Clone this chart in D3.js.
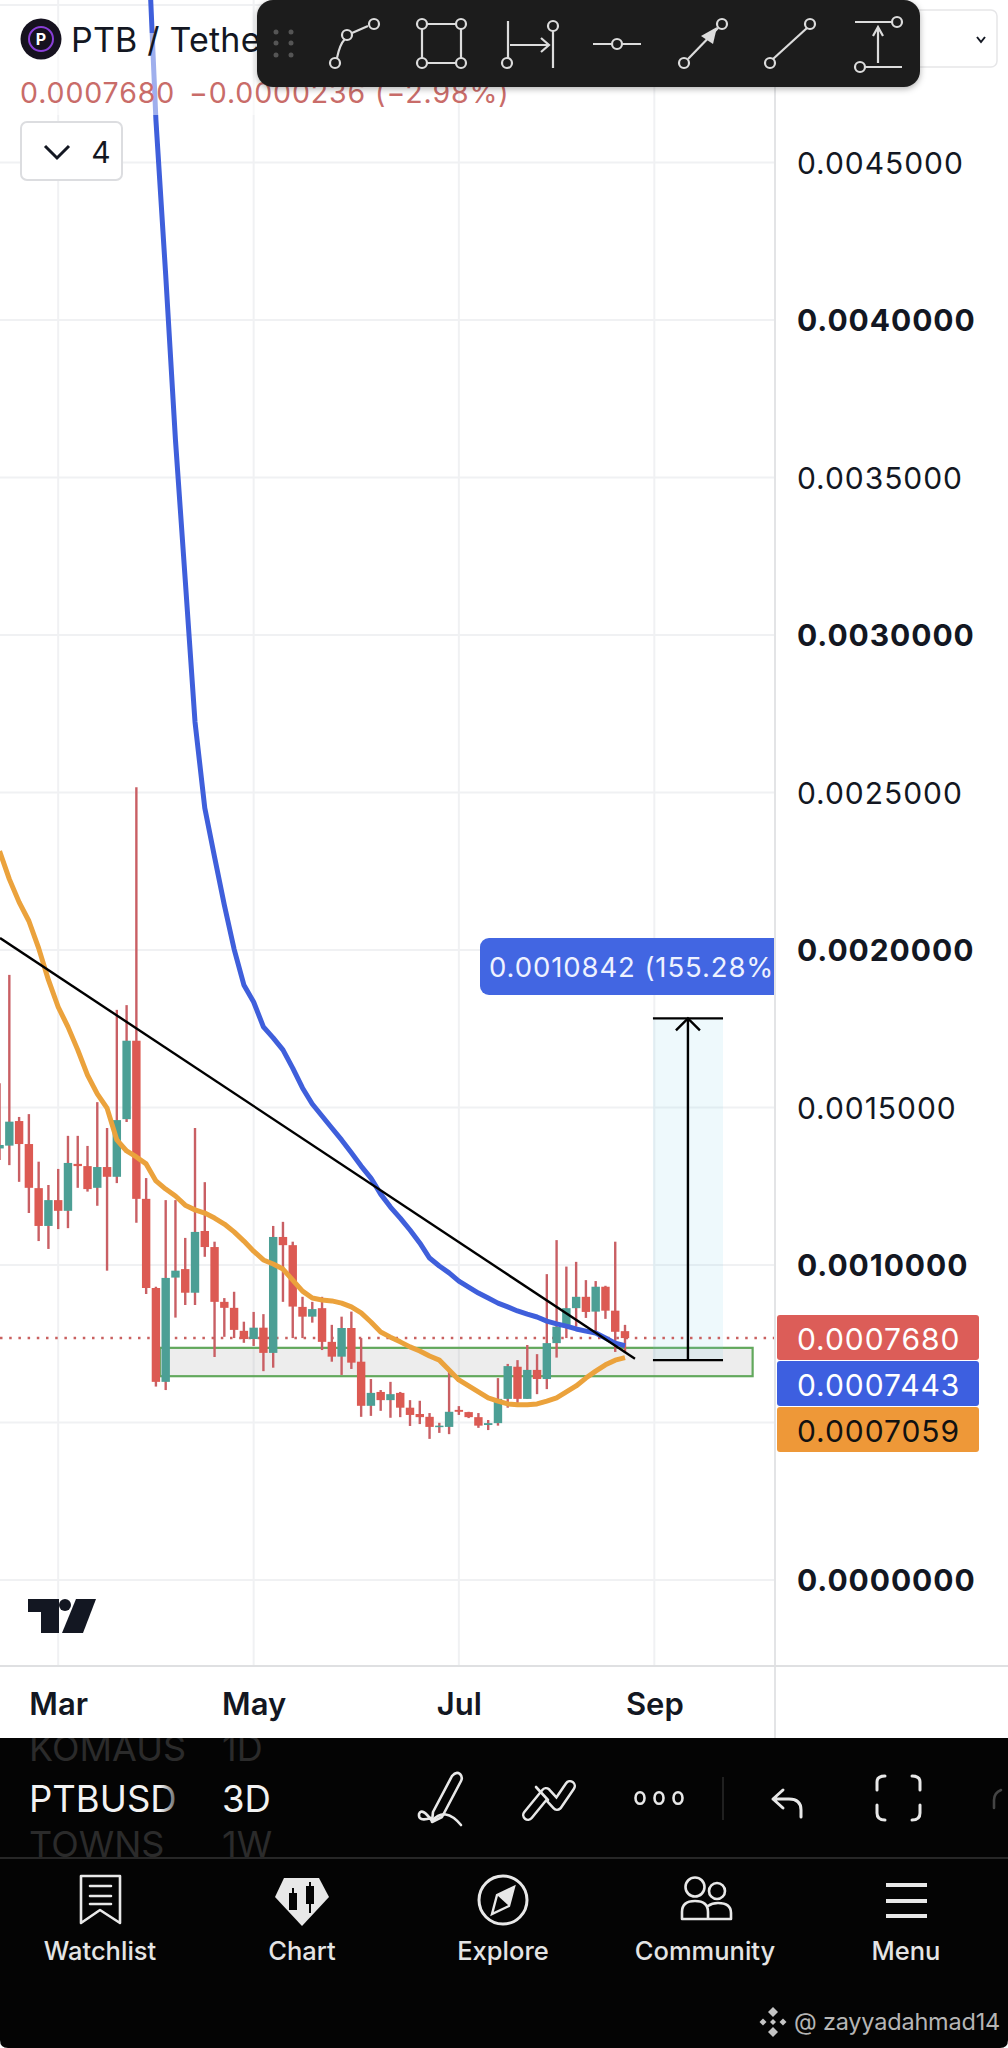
<!DOCTYPE html>
<html>
<head>
<meta charset="utf-8">
<title>PTB / TetherUS</title>
<script src="https://cdn.jsdelivr.net/npm/d3@7"></script>
<style>
	html, body { margin: 0; padding: 0; background: #fff; }
	svg { display: block; }
	text { font-family: Inter, "Open Sans", sans-serif; }
</style>
</head>
<body>
<div id="chart"></div>
<script>
const w = 1008;
const h = 2048;

const firstCandle = -1;
const opens = [1370,1379,1457,1384,1244,1124,1206,1172,1321,1314,1245,1311,1280,1463,1712,1210,927,629,960,987,912,1108,1057,883,864,791,765,801,721,1089,1063,867,836,863,756,709,800,693,553,597,571,594,547,527,518,486,486,540,533,517,492,498,575,677,575,667,638,752,804,863,899,852,931,855,790];
const highs = [1577,1921,1470,1479,1328,1254,1305,1410,1410,1378,1517,1435,1810,1825,2517,1276,931,1206,1206,1086,1435,1263,1074,895,915,820,851,844,1124,1137,1074,899,883,899,810,836,852,768,638,603,629,597,571,569,530,499,670,552,534,530,508,641,686,698,746,717,971,1079,995,1010,952,949,934,1074,810];
const lows = [1333,1317,1264,1165,1076,1051,1114,1117,1245,1233,1188,982,1260,1454,1134,908,614,603,833,873,873,1026,708,772,768,753,743,663,674,883,768,768,817,730,693,651,670,518,521,537,515,517,489,495,448,467,463,524,514,483,476,490,547,562,575,590,606,706,768,804,832,788,829,724,721];
const closes = [1381,1455,1384,1245,1124,1206,1172,1324,1314,1241,1311,1280,1460,1712,1210,927,629,959,982,912,1105,1057,883,864,794,765,801,721,1089,1063,868,836,860,756,709,800,690,553,594,571,590,547,524,517,486,490,534,534,517,490,498,575,679,575,667,638,752,804,863,899,851,931,855,788,768];

// orange average starts at the first candle, blue one at candle 14
const orangeLine = [2314,2225,2152,2092,2006,1905,1819,1756,1683,1603,1543,1498,1397,1362,1343,1321,1267,1241,1219,1190,1175,1165,1149,1130,1105,1076,1044,1016,1003,987,952,917,895,889,886,879,867,848,819,787,771,756,740,727,711,698,667,635,616,597,578,568,559,556,556,559,568,578,597,616,641,663,683,698,706];
const blueStart = 14;
const blueLine = [5349,4635,4143,3619,3175,2724,2451,2295,2143,2003,1889,1835,1756,1721,1683,1625,1562,1511,1473,1435,1397,1356,1314,1276,1225,1184,1149,1111,1070,1022,997,975,949,930,911,895,879,867,854,844,835,822,813,806,797,790,784,768,752,744];

// drawings on the chart: [candle index, price]
const trendLine = [[-0.95, 2038], [64.02, 702]];
const zoneBox = {x0: 15.4, x1: 76.06, top: 737, bottom: 647};
const measureBox = {x0: 65.86, x1: 73.03, mid: 69.44, top: 1783, bottom: 698};
const lastPrice = 768;

const priceTicks = [0,500,1000,1500,2000,2500,3000,3500,4000,4500];
const boldTicks = [0,1000,2000,3000,4000];
const gridPrices = [0,500,1000,1500,2000,2500,3000,3500,4000,4500,5000];
const monthTicks = [5,25,46,66];
const monthLabels = ["Mar","May","Jul","Sep"];

const priceTags = [
	{text: "0.0007680", bg: "#dc5d58", fg: "#fff", y: 1315, h: 45},
	{text: "0.0007443", bg: "#3d5fe0", fg: "#fff", y: 1361, h: 45},
	{text: "0.0007059", bg: "#ee9838", fg: "#111", y: 1407, h: 45}
];
const navItems = ["Watchlist","Chart","Explore","Community","Menu"];
const navX = [100,302,503,705,906];

const candles = opens.map((o, i) => ({
	i: i + firstCandle, open: o, high: highs[i], low: lows[i], close: closes[i]
}));

let xScale = d3.scaleLinear().domain([0, 63]).range([9.33, 625]);
let yScale = d3.scaleLinear().domain([0, 5000]).range([1580, 5]);

const axisX = 775;
const plotBottom = 1666;
const panelTop = 1738;

let svg = d3.select('#chart')
	.append('svg')
		.attr('width', w)
		.attr('height', h);

let defs = svg.append('defs');
defs.append('clipPath').attr('id', 'plot')
	.append('rect').attr('width', axisX).attr('height', plotBottom);
defs.append('clipPath').attr('id', 'panelRow')
	.append('rect').attr('y', panelTop).attr('width', w).attr('height', 1858 - panelTop);
let fade = defs.append('linearGradient').attr('id', 'fade')
	.attr('gradientUnits', 'userSpaceOnUse')
	.attr('x1', 160).attr('x2', 182).attr('y1', 0).attr('y2', 0);
fade.append('stop').attr('offset', 0).attr('stop-color', '#f2f2f2');
fade.append('stop').attr('offset', 1).attr('stop-color', '#333');
let shadow = defs.append('filter').attr('id', 'shadow')
	.attr('x', '-10%').attr('y', '-20%').attr('width', '120%').attr('height', '150%');
shadow.append('feDropShadow').attr('dx', 0).attr('dy', 2).attr('stdDeviation', 3)
	.attr('flood-color', '#000').attr('flood-opacity', 0.3);

drawPlot();
drawAxes();
drawHeader();
drawToolbar();
drawPanel();

function drawPlot() {
	let plot = svg.append('g').attr('clip-path', 'url(#plot)');

	plot.selectAll('line.hgrid')
		.data(gridPrices)
		.enter().append('line')
		.attr('class', 'hgrid')
		.attr('x1', 0).attr('x2', axisX)
		.attr('y1', (d) => yScale(d)).attr('y2', (d) => yScale(d))
		.attr('stroke', '#f0f1f3').attr('stroke-width', 2);

	plot.selectAll('line.vgrid')
		.data(monthTicks)
		.enter().append('line')
		.attr('class', 'vgrid')
		.attr('x1', (d) => xScale(d)).attr('x2', (d) => xScale(d))
		.attr('y1', 0).attr('y2', plotBottom)
		.attr('stroke', '#f0f1f3').attr('stroke-width', 2);

	// zone under the candles
	plot.append('rect')
		.attr('x', xScale(zoneBox.x0))
		.attr('width', xScale(zoneBox.x1) - xScale(zoneBox.x0))
		.attr('y', yScale(zoneBox.top))
		.attr('height', yScale(zoneBox.bottom) - yScale(zoneBox.top))
		.attr('fill', 'rgba(140,140,140,0.16)')
		.attr('stroke', '#62a85c').attr('stroke-width', 2.2);

	// measure tool background
	plot.append('rect')
		.attr('x', xScale(measureBox.x0))
		.attr('width', xScale(measureBox.x1) - xScale(measureBox.x0))
		.attr('y', yScale(measureBox.top))
		.attr('height', yScale(measureBox.bottom) - yScale(measureBox.top))
		.attr('fill', 'rgba(120,210,235,0.13)');

	// last price line
	plot.append('line')
		.attr('x1', 0).attr('x2', axisX)
		.attr('y1', yScale(lastPrice)).attr('y2', yScale(lastPrice))
		.attr('stroke', '#c9605f').attr('stroke-width', 2.5)
		.attr('stroke-dasharray', '2.5 6.7');

	let candle = plot.selectAll('g.candle')
		.data(candles)
		.enter().append('g')
		.attr('class', 'candle');

	// wicks are red on every candle in this chart
	candle.append('line')
		.attr('x1', (d) => xScale(d.i)).attr('x2', (d) => xScale(d.i))
		.attr('y1', (d) => yScale(d.high)).attr('y2', (d) => yScale(d.low))
		.attr('stroke', '#c95f64')
		.attr('stroke-width', 2.4);

	candle.append('rect')
		.attr('x', (d) => xScale(d.i) - 4.2)
		.attr('width', 8.4)
		.attr('y', (d) => yScale(Math.max(d.open, d.close)))
		.attr('height', (d) => Math.max(1.5, Math.abs(yScale(d.open) - yScale(d.close))))
		.attr('fill', (d) => d.close > d.open ? '#4c9f95' : '#dc5a53');

	let line = d3.line()
		.x((d) => xScale(d[0]))
		.y((d) => yScale(d[1]));

	plot.append('path')
		.attr('d', line(blueLine.map((v, i) => [i + blueStart, v])))
		.attr('fill', 'none')
		.attr('stroke', '#3f5fdb').attr('stroke-width', 5)
		.attr('stroke-linejoin', 'round');

	plot.append('path')
		.attr('d', line(orangeLine.map((v, i) => [i + firstCandle, v])))
		.attr('fill', 'none')
		.attr('stroke', '#eba23c').attr('stroke-width', 5)
		.attr('stroke-linejoin', 'round');

	plot.append('path')
		.attr('d', line(trendLine))
		.attr('fill', 'none')
		.attr('stroke', '#000').attr('stroke-width', 2.4);

	// measure tool
	const mx = xScale(measureBox.mid);
	const mTop = yScale(measureBox.top);
	const mBot = yScale(measureBox.bottom);
	[mTop, mBot].forEach((y) => {
		plot.append('line')
			.attr('x1', xScale(measureBox.x0)).attr('x2', xScale(measureBox.x1))
			.attr('y1', y).attr('y2', y)
			.attr('stroke', '#000').attr('stroke-width', 2.4);
	});
	plot.append('line')
		.attr('x1', mx).attr('x2', mx).attr('y1', mTop).attr('y2', mBot)
		.attr('stroke', '#000').attr('stroke-width', 2.4);
	plot.append('path')
		.attr('d', `M${mx - 12},${mTop + 12}L${mx},${mTop}L${mx + 12},${mTop + 12}`)
		.attr('fill', 'none').attr('stroke', '#000').attr('stroke-width', 2.4);

	// measure label runs into the axis
	plot.append('rect')
		.attr('x', 480).attr('y', 938)
		.attr('width', 312).attr('height', 57).attr('rx', 9)
		.attr('fill', '#4266e2');
	plot.append('text')
		.attr('x', 489).attr('y', 977)
		.attr('font-size', 27.5).attr('letter-spacing', 0.9)
		.attr('fill', '#eef2ff')
		.text('0.0010842 (155.28%');

	// see-through legend strip over the blue line
	plot.append('rect')
		.attr('x', 0).attr('y', 33)
		.attr('width', 257).attr('height', 82)
		.attr('fill', 'rgba(255,255,255,0.5)');
}

function drawAxes() {
	let yAxis = d3.axisRight(yScale)
		.tickValues(priceTicks)
		.tickSize(0)
		.tickPadding(22)
		.tickFormat((d) => (d / 1e6).toFixed(7));

	let yg = svg.append('g')
		.attr('transform', `translate(${axisX},0)`)
		.call(yAxis);
	yg.select('.domain').attr('stroke', '#e3e4e6').attr('stroke-width', 2)
		.attr('d', `M0,0V${panelTop}`);
	yg.selectAll('text')
		.attr('font-family', 'Inter')
		.attr('font-size', 30)
		.attr('letter-spacing', 0.95)
		.attr('dy', '0.36em')
		.attr('font-weight', (d) => boldTicks.includes(d) ? 700 : 400)
		.attr('fill', '#131722');

	let xAxis = d3.axisBottom(xScale)
		.tickValues(monthTicks)
		.tickSize(0)
		.tickPadding(27)
		.tickFormat((d, i) => monthLabels[i]);

	let xg = svg.append('g')
		.attr('transform', `translate(0,${plotBottom})`)
		.call(xAxis);
	xg.select('.domain').attr('stroke', '#dfe0e2').attr('stroke-width', 2)
		.attr('d', `M0,0H${w}`);
	xg.selectAll('text')
		.attr('font-family', 'Inter')
		.attr('font-size', 31)
		.attr('font-weight', 600)
		.attr('fill', '#131722');

	priceTags.forEach((t) => {
		svg.append('rect')
			.attr('x', 777).attr('y', t.y)
			.attr('width', 202).attr('height', t.h).attr('rx', 3)
			.attr('fill', t.bg);
		svg.append('text')
			.attr('x', 797).attr('y', t.y + t.h / 2 + 12)
			.attr('font-size', 30).attr('letter-spacing', 0.95)
			.attr('fill', t.fg)
			.text(t.text);
	});

	// TradingView mark
	svg.append('path')
		.attr('d', 'M28,1599H59V1633H41V1612H28Z')
		.attr('fill', '#131722');
	svg.append('circle').attr('cx', 65).attr('cy', 1605).attr('r', 6).attr('fill', '#131722');
	svg.append('path')
		.attr('d', 'M76,1599H96L83,1633H62Z')
		.attr('fill', '#131722');
}

function drawHeader() {
	svg.append('circle').attr('cx', 41).attr('cy', 39).attr('r', 20.5).attr('fill', '#16121f');
	svg.append('circle').attr('cx', 41).attr('cy', 39).attr('r', 12)
		.attr('fill', 'none').attr('stroke', '#8a3fd8').attr('stroke-width', 2);
	svg.append('text')
		.attr('x', 41).attr('y', 45).attr('text-anchor', 'middle')
		.attr('font-size', 16).attr('font-weight', 700).attr('fill', '#fff')
		.text('P');

	svg.append('text')
		.attr('x', 71).attr('y', 52)
		.attr('font-size', 34).attr('letter-spacing', 0.2).attr('fill', '#131722')
		.text('PTB / Tethe');

	svg.append('text')
		.attr('x', 20).attr('y', 103)
		.attr('font-size', 28.5).attr('letter-spacing', 0.9).attr('fill', '#c96c69')
		.text('0.0007680');
	svg.append('text')
		.attr('x', 189).attr('y', 103)
		.attr('font-size', 28.5).attr('letter-spacing', 0.9).attr('fill', '#c96c69')
		.text('\u22120.0000236 (\u22122.98%)');

	// interval dropdown behind the toolbar
	svg.append('rect')
		.attr('x', 880).attr('y', 10)
		.attr('width', 117).attr('height', 57).attr('rx', 6)
		.attr('fill', '#fff').attr('stroke', '#e6e6e8').attr('stroke-width', 1.5);
	svg.append('path')
		.attr('d', 'M977,37L981,42L985,37')
		.attr('fill', 'none').attr('stroke', '#131722').attr('stroke-width', 2);

	svg.append('rect')
		.attr('x', 21).attr('y', 122)
		.attr('width', 101).attr('height', 58).attr('rx', 6)
		.attr('fill', '#fff').attr('stroke', '#dcdde0').attr('stroke-width', 2);
	svg.append('path')
		.attr('d', 'M45,146L57,158L69,146')
		.attr('fill', 'none').attr('stroke', '#131722').attr('stroke-width', 3);
	svg.append('text')
		.attr('x', 101).attr('y', 163).attr('text-anchor', 'middle')
		.attr('font-size', 30).attr('fill', '#131722')
		.text('4');
}

function drawToolbar() {
	let bar = svg.append('g');
	bar.append('rect')
		.attr('x', 257).attr('y', 0)
		.attr('width', 663).attr('height', 87).attr('rx', 16)
		.attr('fill', '#1e1e1e')
		.attr('filter', 'url(#shadow)');

	[276, 291].forEach((x) => {
		[32, 43, 55].forEach((y) => {
			bar.append('circle').attr('cx', x).attr('cy', y).attr('r', 2.5).attr('fill', '#555');
		});
	});

	const paths = [
		'M337,58C339,48 342,42 345,39M352,33L368,26',
		'M427,24H456M427,63H456M422,29V58M461,29V58',
		'M508,21V58M553,31V68M510,45H548M541,38L549,45L541,52',
		'M593,44H612M622,44H641',
		'M688,59L718,28',
		'M773,59L807,28',
		'M855,22H892M865,67H902M878,63V28M873,36L878,27L883,36'
	];
	paths.forEach((d) => {
		bar.append('path').attr('d', d)
			.attr('fill', 'none').attr('stroke', '#dcdcdc').attr('stroke-width', 2.2);
	});
	bar.append('path').attr('d', 'M717,27L713,44L701,36Z').attr('fill', '#dcdcdc');

	const handles = [[335,63],[347,35],[374,24],[422,24],[461,24],[422,63],[461,63],[507,63],[553,26],[617,44],[684,63],[722,24],[770,63],[810,24],[897,22],[860,67]];
	bar.selectAll('circle.handle')
		.data(handles)
		.enter().append('circle')
		.attr('class', 'handle')
		.attr('cx', (d) => d[0]).attr('cy', (d) => d[1]).attr('r', 5)
		.attr('fill', 'none').attr('stroke', '#dcdcdc').attr('stroke-width', 2.2);
}

function drawPanel() {
	let panel = svg.append('g');
	panel.append('path')
		.attr('d', `M0,${panelTop}H${w}V${h - 8}Q${w},${h} ${w - 8},${h}H8Q0,${h} 0,${h - 8}Z`)
		.attr('fill', '#040404');

	// rows of the picker above and below the current one, cut off by the panel
	let dim = panel.append('g').attr('clip-path', 'url(#panelRow)');
	[['KOMAUS', 29, 1761], ['TOWNS', 29, 1857], ['1D', 222, 1761], ['1W', 222, 1857]].forEach((t) => {
		dim.append('text')
			.attr('x', t[1]).attr('y', t[2])
			.attr('font-size', 36).attr('fill', '#2b2b2b')
			.text(t[0]);
	});

	panel.append('text')
		.attr('x', 29).attr('y', 1812)
		.attr('font-size', 36.5).attr('fill', 'url(#fade)')
		.text('PTBUSD');
	panel.append('text')
		.attr('x', 222).attr('y', 1812)
		.attr('font-size', 36.5).attr('fill', '#f2f2f2')
		.text('3D');

	const stroke = (d, width) => panel.append('path').attr('d', d)
		.attr('fill', 'none').attr('stroke', '#e8e8e8')
		.attr('stroke-width', width || 2.6)
		.attr('stroke-linecap', 'round').attr('stroke-linejoin', 'round');

	// pencil, trend, dots, undo, fullscreen
	stroke('M433,1812L452,1776Q456,1771 460,1774Q463,1777 461,1781L442,1817L432,1822Z');
	stroke('M431,1818Q418,1822 419,1814Q422,1807 432,1821Q445,1806 461,1825');
	const zig = 'M528,1815L546,1793L557,1805L570,1786';
	stroke(zig, 12);
	stroke(zig, 7).attr('stroke', '#040404');
	stroke('M536,1787L548,1800', 2.6);
	[640,659,678].forEach((x) => {
		panel.append('ellipse').attr('cx', x).attr('cy', 1798).attr('rx', 4.5).attr('ry', 5.8)
			.attr('fill', 'none').attr('stroke', '#e8e8e8').attr('stroke-width', 2.6);
	});
	panel.append('line').attr('x1', 723).attr('x2', 723).attr('y1', 1777).attr('y2', 1820).attr('stroke', '#2a2a2a').attr('stroke-width', 1.5);
	stroke('M783,1790L773,1799L783,1808M773,1799H789Q801,1799 801,1810V1817', 3);
	stroke('M877,1790V1782Q877,1776 885,1776M920,1790V1782Q920,1776 912,1776M877,1805V1813Q877,1820 885,1820M920,1805V1813Q920,1820 912,1820', 3);
	stroke('M994,1808V1800Q994,1793 1001,1790', 2.6).attr('stroke', '#444');

	panel.append('line').attr('x1', 0).attr('x2', w).attr('y1', 1858).attr('y2', 1858)
		.attr('stroke', '#333').attr('stroke-width', 1.5);

	// bottom nav
	stroke('M81,1876H120V1923L100,1910L81,1923Z');
	stroke('M90,1886H111M90,1896H111M90,1904H111');
	panel.append('path').attr('d', 'M284,1878H319L329,1897L302,1926L275,1897Z').attr('fill', '#e8e8e8');
	[[293,1893,1910,1888,1903],[310,1886,1904,1882,1908]].forEach((c) => {
		panel.append('line').attr('x1', c[0]).attr('x2', c[0]).attr('y1', c[3]).attr('y2', c[4] + 5)
			.attr('stroke', '#040404').attr('stroke-width', 2);
		panel.append('rect').attr('x', c[0] - 4).attr('y', c[1]).attr('width', 8).attr('height', c[2] - c[1])
			.attr('fill', '#040404');
	});
	panel.append('circle').attr('cx', 503).attr('cy', 1900).attr('r', 24)
		.attr('fill', 'none').attr('stroke', '#e8e8e8').attr('stroke-width', 3);
	panel.append('path').attr('d', 'M514,1887L509,1906L492,1914L497,1895Z')
		.attr('fill', 'none').attr('stroke', '#e8e8e8').attr('stroke-width', 2.4);
	panel.append('path').attr('d', 'M514,1887L497,1895L509,1906Z').attr('fill', '#e8e8e8');
	panel.append('circle').attr('cx', 695).attr('cy', 1887).attr('r', 9.5).attr('fill', 'none').attr('stroke', '#e8e8e8').attr('stroke-width', 2.6);
	panel.append('circle').attr('cx', 717).attr('cy', 1891).attr('r', 8).attr('fill', 'none').attr('stroke', '#e8e8e8').attr('stroke-width', 2.6);
	stroke('M682,1919V1912Q682,1901 695,1901Q708,1901 708,1912V1919ZM708,1919H731V1913Q731,1903 718,1903Q712,1903 708,1906');
	stroke('M886,1885H927M886,1901H927M886,1916H927', 4).attr('stroke-linecap', 'butt');

	panel.selectAll('text.nav')
		.data(navItems)
		.enter().append('text')
		.attr('class', 'nav')
		.attr('x', (d, i) => navX[i]).attr('y', 1960)
		.attr('text-anchor', 'middle')
		.attr('font-size', 25.5).attr('font-weight', 500)
		.attr('fill', '#e4e4e4')
		.text((d) => d);

	// exchange badge next to the handle
	[[773,2012,5],[773,2032,5],[763,2022,3.5],[783,2022,3.5],[773,2022,3]].forEach((d) => {
		panel.append('path')
			.attr('d', `M${d[0]},${d[1] - d[2]}L${d[0] + d[2]},${d[1]}L${d[0]},${d[1] + d[2]}L${d[0] - d[2]},${d[1]}Z`)
			.attr('fill', '#c4c4c4');
	});
	panel.append('text')
		.attr('x', 794).attr('y', 2030)
		.attr('font-size', 23.5).attr('letter-spacing', -0.2).attr('fill', '#b5b5b5')
		.text('@ zayyadahmad14');
}
</script>
</body>
</html>
